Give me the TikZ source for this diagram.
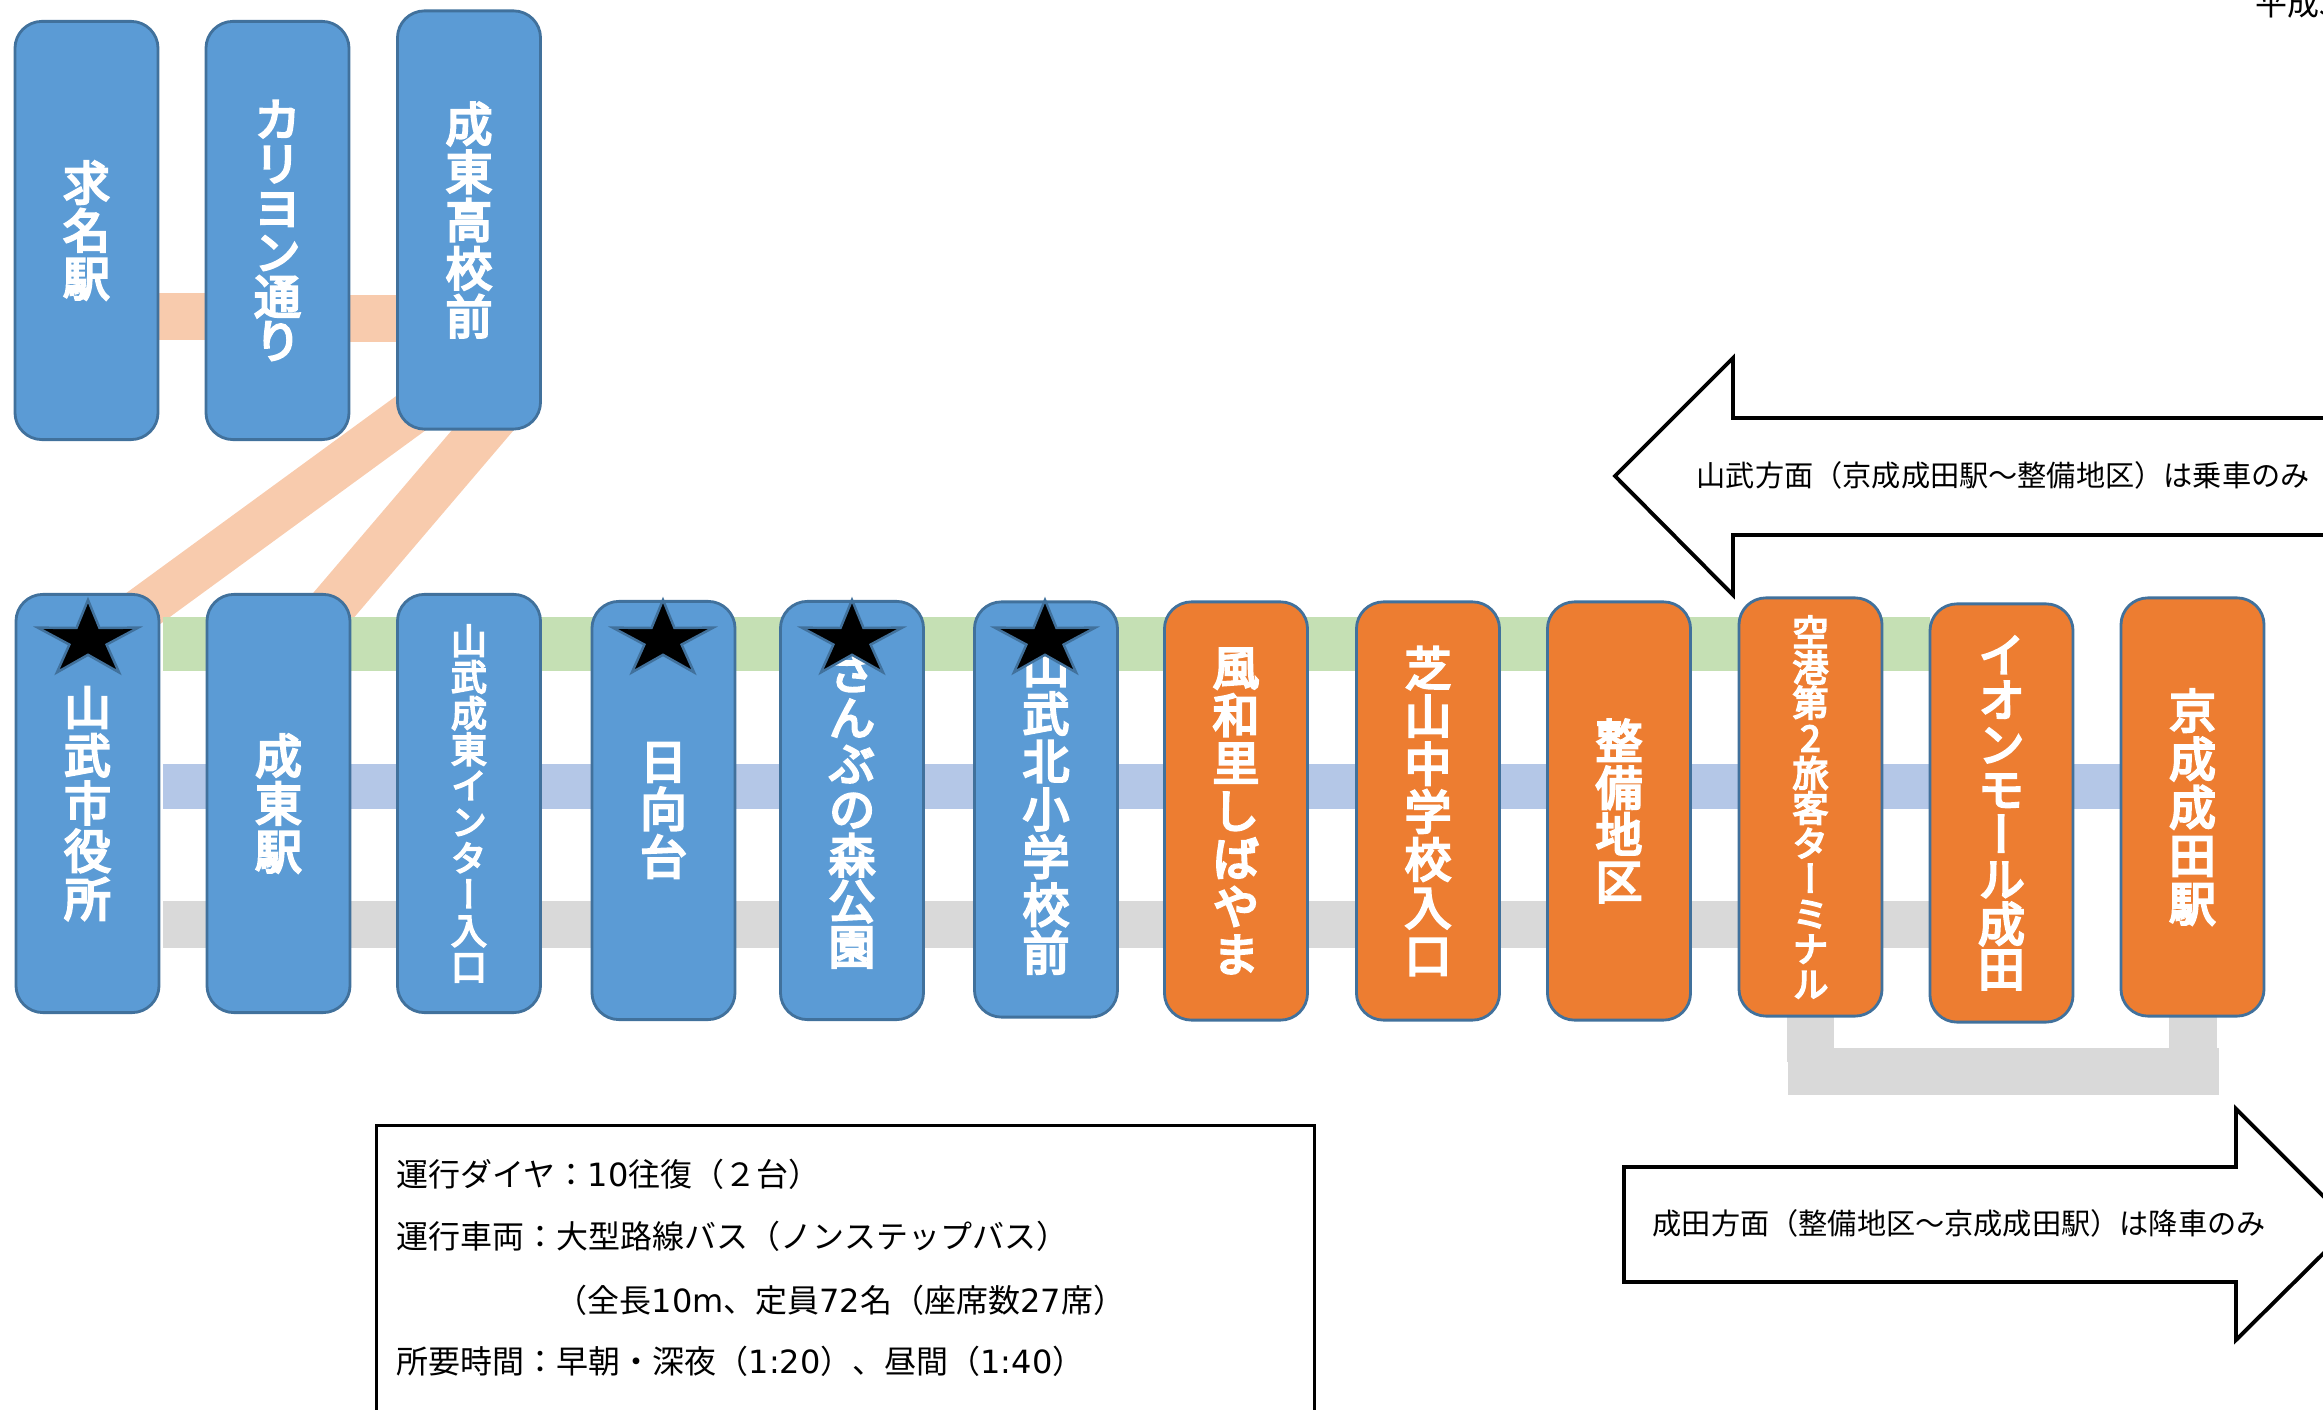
\documentclass[tikz,border=0pt]{standalone}
\usepackage{fontspec}
\setmainfont{Noto Sans CJK JP}
\newfontfamily\vertfont[RawFeature={+vert},FakeBold=5]{Noto Sans CJK JP}
\newfontfamily\latinfont{DejaVu Sans}
\usetikzlibrary{backgrounds,shapes.geometric}

\definecolor{stnblue}{HTML}{5B9BD5}
\definecolor{stnorange}{HTML}{ED7D31}
\definecolor{stnline}{HTML}{41719C}
\definecolor{bandorange}{HTML}{F8CBAD}
\definecolor{bandgreen}{HTML}{C5E0B4}
\definecolor{bandblue}{HTML}{B4C7E7}
\definecolor{bandgray}{HTML}{D9D9D9}

\def\lat#1{{\latinfont #1}}

\tikzset{
  stnbox/.style={rectangle, rounded corners=.27cm, draw=stnline, line width=.8pt,
    minimum width=1.43cm, minimum height=4.18cm, inner sep=0pt, outer sep=0pt,
    align=center, text=white, stnfont=13.6},
  stnfont/.style={font=\vertfont\fontsize{13.3}{#1}\selectfont},
  smallstn/.style={font=\vertfont\fontsize{10.2}{#1}\selectfont},
  bluestn/.style={stnbox, fill=stnblue},
  orangestn/.style={stnbox, fill=stnorange},
  starmark/.style={star, star points=5, star point ratio=2.7, fill=black, draw=stnline,
    line width=.7pt, minimum size=.8cm, inner sep=0pt, outer sep=0pt,
    xscale=1.32, transform shape},
  arrowshape/.style={draw=black, fill=white, line width=1.1pt, miter limit=10},
  note/.style={anchor=west, inner sep=0pt, font=\fontsize{8.3}{10}\selectfont},
  infotext/.style={anchor=west, inner sep=0pt, font=\fontsize{9.1}{11}\selectfont}
}

\begin{document}
\lineskiplimit=-30pt
\begin{tikzpicture}[x=.01cm, y=-.01cm]
  \useasboundingbox (0,0) rectangle (2323,1410);
  \clip (0,0) rectangle (2323,1410);

  % Upper stops
  \node[bluestn] (motona) at (86.5,230.5) {求\\名\\駅};
  \node[bluestn, stnfont=12.6] (karion) at (277.5,230.5) {カ\\リ\\ヨ\\ン\\通\\り};
  \node[bluestn, stnfont=13.7] (seikoko) at (469,220) {成\\東\\高\\校\\前};

  % Main line, blue stops
  \node[bluestn] (shiyaku) at (87.5,803.5) {山\\武\\市\\役\\所};
  \node[bluestn] (naruto) at (278.5,803.5) {成\\東\\駅};
  \node[bluestn, smallstn=10.3] (inter) at (469,803.5) {山\\武\\成\\東\\イ\\ン\\タ\\ー\\入\\口};
  \node[bluestn] (hinata) at (663.5,810.5) {日\\向\\台};
  \node[bluestn, stnfont=13] (sanbu) at (852,810.5) {さ\\ん\\ぶ\\の\\森\\公\\園};
  \node[bluestn, minimum height=4.15cm] (kitasho) at (1046,809.5) {山\\武\\北\\小\\学\\校\\前};

  % Main line, orange stops
  \node[orangestn] (fuwa) at (1236,811) {風\\和\\里\\し\\ば\\や\\ま};
  \node[orangestn] (shiba) at (1428,811) {芝\\山\\中\\学\\校\\入\\口};
  \node[orangestn, stnfont=13.3] (seibi) at (1619,811) {整\\備\\地\\区};
  \node[orangestn, smallstn=10] (kuko) at (1810.5,807) {空\\港\\第\\2\\旅\\客\\タ\\ー\\ミ\\ナ\\ル};
  \node[orangestn, stnfont=12.75] (aeon) at (2001.5,813) {イ\\オ\\ン\\モ\\ー\\ル\\成\\田};
  \node[orangestn, stnfont=13.7] (keisei) at (2192.5,807) {京\\成\\成\\田\\駅};

  % Stars on top of the stops
  \foreach \px/\nm in {88/starA, 663/starB, 852/starC, 1045/starD}
    \node[starmark] (\nm) at (\px,640) {};

  % Free ends of the routes
  \coordinate (greeny) at (0,644);
  \coordinate (bluey) at (0,786.5);
  \coordinate (grayy) at (0,924.5);
  \coordinate (diagA) at (450,384.6);
  \coordinate (diagB) at (110,632.8);
  \coordinate (diagC) at (500,410);
  \coordinate (diagD) at (304,640);

  % Routes behind the stops
  \begin{scope}[on background layer]
    \draw[bandorange, line width=.47cm] (motona.east |- 0,316.5) -- (karion.west |- 0,316.5);
    \draw[bandorange, line width=.47cm] (karion.east |- 0,318.5) -- (seikoko.west |- 0,318.5);
    \draw[bandorange, line width=.45cm] (diagA) -- (diagB);
    \draw[bandorange, line width=.47cm] (diagC) -- (diagD);
    \draw[bandgreen, line width=.54cm, shorten <=.04cm] (shiyaku.east |- greeny) -- (aeon.west |- greeny);
    \draw[bandblue, line width=.45cm, shorten <=.04cm] (shiyaku.east |- bluey) -- (keisei.west |- bluey);
    \draw[bandgray, line width=.46cm, shorten <=.04cm] (shiyaku.east |- grayy) -- (aeon.west |- grayy);
    % Loop under the last stops
    \draw[bandgray, line width=.47cm] (kuko.south) -- ++(0,46);
    \draw[bandgray, line width=.48cm] (keisei.south) -- ++(0,43);
    \draw[bandgray, line width=.47cm] (1788,1071.5) -- (2219,1071.5);
  \end{scope}

  % Direction arrows
  \draw[arrowshape] (2400,418) -- (1733,418) -- (1733,358) -- (1615,476) -- (1733,595) -- (1733,535) -- (2400,535) -- cycle;
  \node[note] (upnote) at (1696,475) {山武方面（京成成田駅～整備地区）は乗車のみ};

  \draw[arrowshape] (1624,1167) -- (2236,1167) -- (2236,1109) -- (2352,1225) -- (2236,1340) -- (2236,1282) -- (1624,1282) -- cycle;
  \node[note] (downnote) at (1652,1223) {成田方面（整備地区～京成成田駅）は降車のみ};

  % Service box
  \node[draw=black, line width=.8pt, minimum width=9.37cm, minimum height=4cm, inner sep=0pt, outer sep=0pt] (info) at (845.5,1326) {};
  \node[infotext] (dia) at (396,1174) {運行ダイヤ：\lat{10}往復（２台）};
  \node[infotext] (bus) at (396,1236) {運行車両：大型路線バス（ノンステップバス）};
  \node[infotext] (size) at (555,1300) {（全長\lat{10m}、定員\lat{72}名（座席数\lat{27}席）};
  \node[infotext] (time) at (396,1361) {所要時間：早朝・深夜（\lat{1:20}）、昼間（\lat{1:40}）};

  % Date, cut off by the page
  \node[infotext] (date) at (2255,3) {平成3};
\end{tikzpicture}
\end{document}
